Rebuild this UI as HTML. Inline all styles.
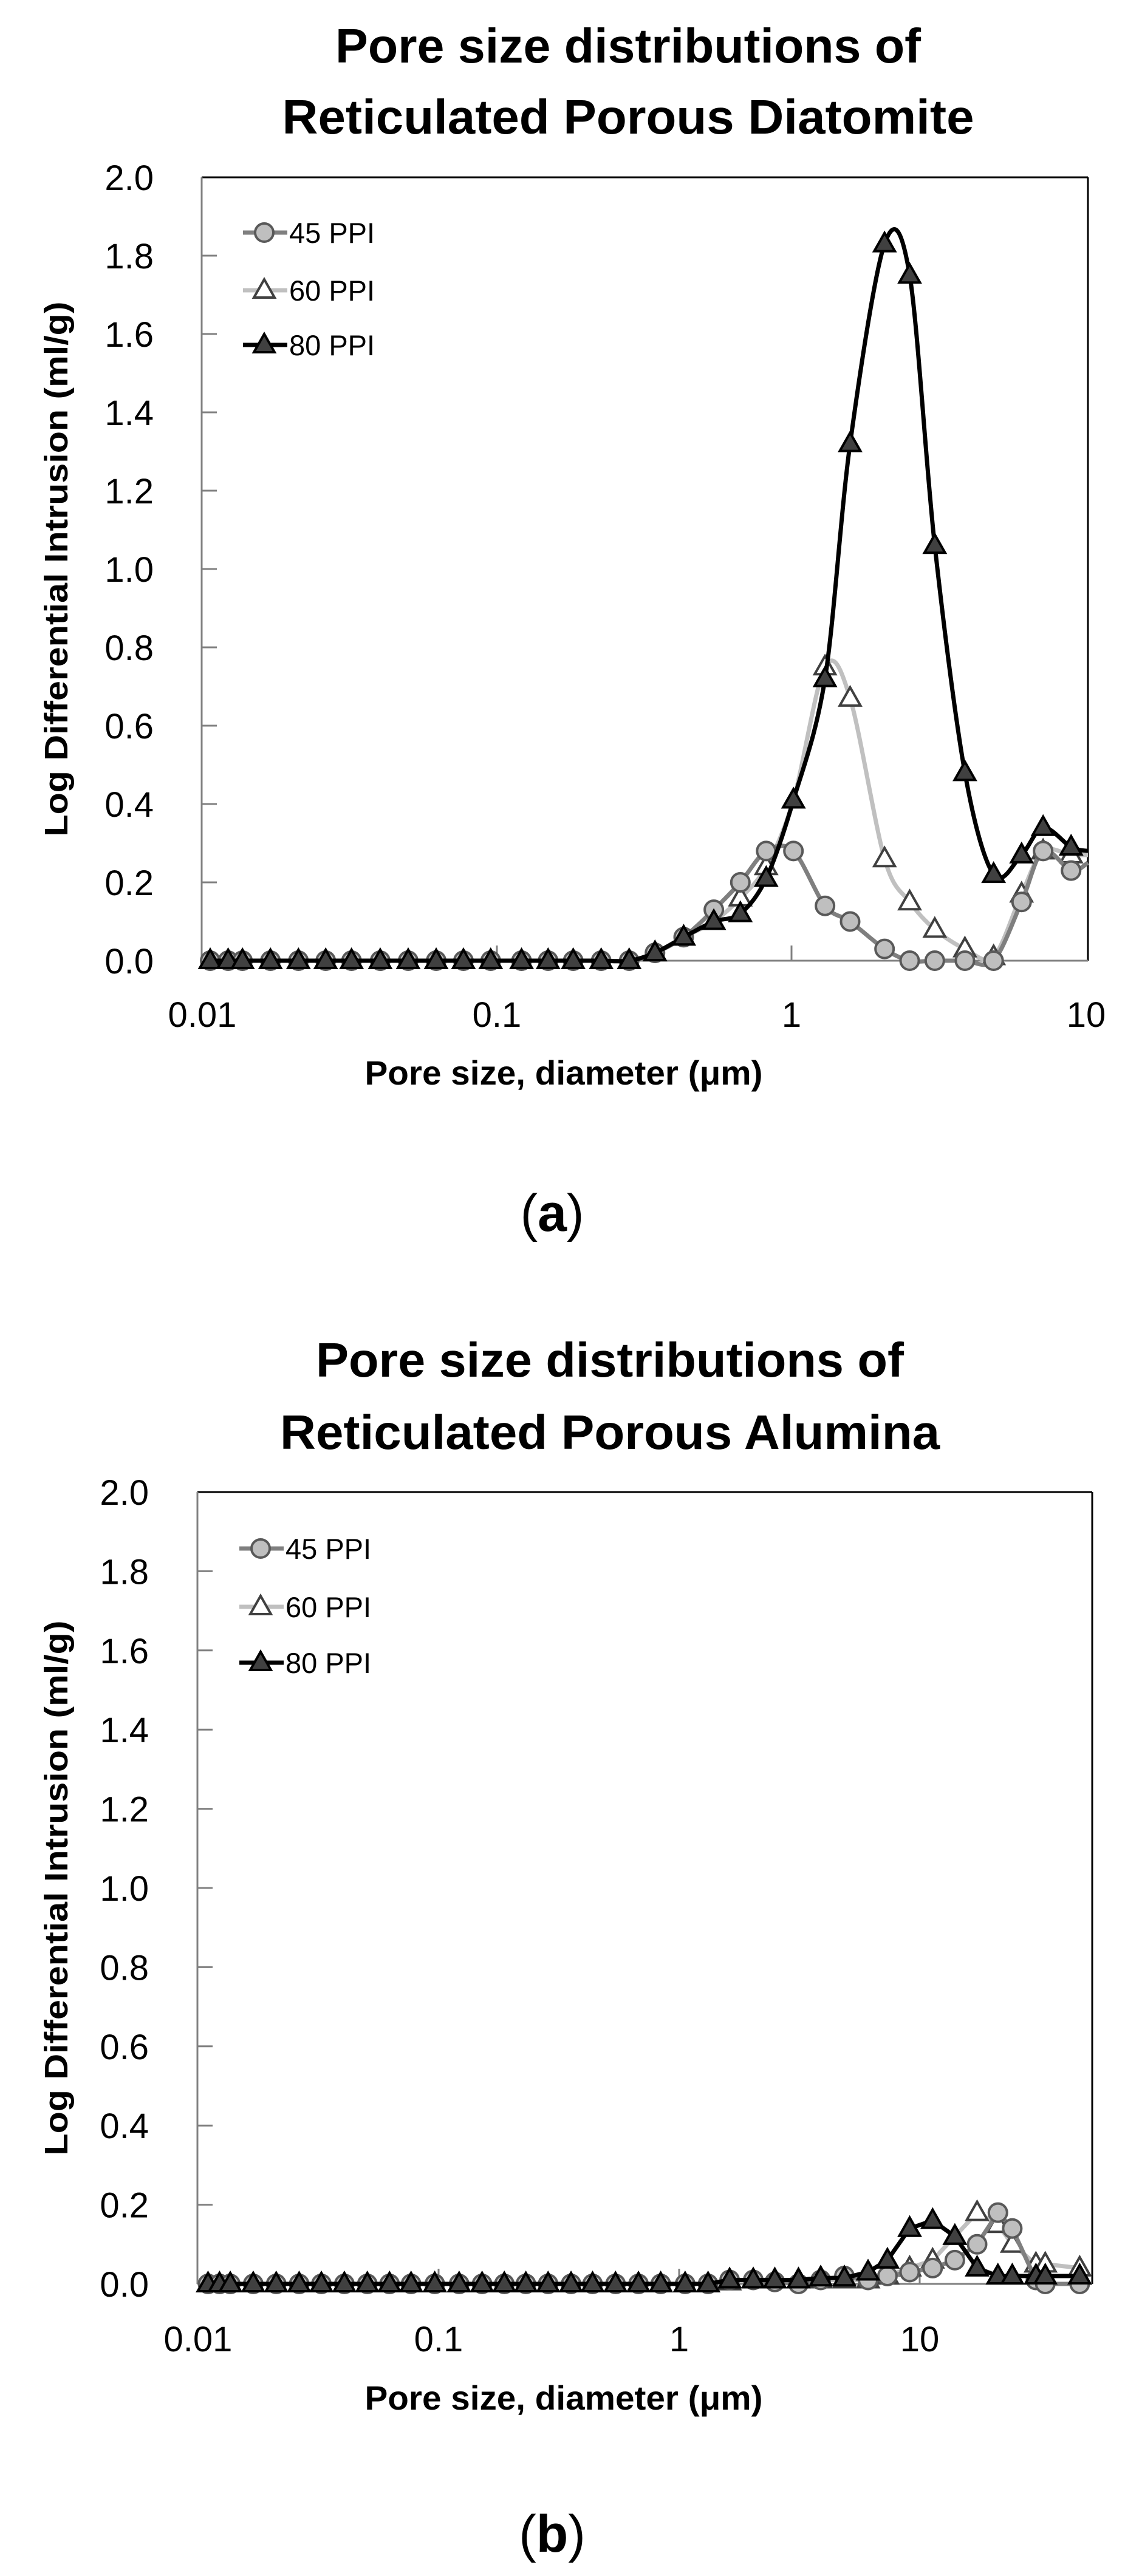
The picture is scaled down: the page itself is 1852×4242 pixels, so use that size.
<!DOCTYPE html>
<html><head><meta charset="utf-8">
<style>
html,body{margin:0;padding:0;background:#fff;}
svg{display:block;}
text{font-family:"Liberation Sans",sans-serif;}
</style></head>
<body>
<svg id="s" width="1852" height="4242" viewBox="0 0 1852 4242" xmlns="http://www.w3.org/2000/svg">
<rect width="1852" height="4242" fill="#fff"/>
</svg>
<script>
const S=document.getElementById('s');const NS='http://www.w3.org/2000/svg';
const K=1.181;
function el(t,a,txt){const e=document.createElementNS(NS,t);for(const k in a)e.setAttribute(k,a[k]);if(txt!==undefined)e.textContent=txt;S.appendChild(e);return e;}
function path(p,sm){if(p.length<2)return'';let d='M'+p[0][0]+','+p[0][1];
 if(!sm){for(let i=1;i<p.length;i++)d+=' L'+p[i][0]+','+p[i][1];return d;}
 for(let i=0;i<p.length-1;i++){const p0=p[i-1]||p[i],p1=p[i],p2=p[i+1],p3=p[i+2]||p2;const t=0.16;
 const c1=[p1[0]+(p2[0]-p0[0])*t,p1[1]+(p2[1]-p0[1])*t];const c2=[p2[0]-(p3[0]-p1[0])*t,p2[1]-(p3[1]-p1[1])*t];
 d+=' C'+c1[0]+','+c1[1]+' '+c2[0]+','+c2[1]+' '+p2[0]+','+p2[1];}return d;}
function tri(x,y,fill,stroke){el('polygon',{points:`${x},${y-18} ${x-17},${y+12} ${x+17},${y+12}`,fill:fill,stroke:stroke,'stroke-width':4,'stroke-linejoin':'miter'});}
function circ(x,y){el('circle',{cx:x,cy:y,r:15,fill:'#bfbfbf',stroke:'#595959','stroke-width':4});}
const styles=[{c:'#7f7f7f',m:'c'},{c:'#c0c0c0',m:'o'},{c:'#000',m:'f'}];
function mark(si,x,y){const st=styles[si];if(st.m=='c')circ(x,y);else if(st.m=='o')tri(x,y,'#fff','#404040');else tri(x,y,'#404040','#000');}

function chart(o){
 const {L,R,T,B,x0,dec,tc,t1,t2,tw1,tw2,ty1,ty2,xtb,xlbl,lab,laby,xs,ser,ext,sm,leg,ylx}=o;
 el('text',{x:tc,y:ty1,'font-size':80,'font-weight':'bold','text-anchor':'middle',textLength:tw1,lengthAdjust:'spacingAndGlyphs',fill:'#000'},t1);
 el('text',{x:tc,y:ty2,'font-size':80,'font-weight':'bold','text-anchor':'middle',textLength:tw2,lengthAdjust:'spacingAndGlyphs',fill:'#000'},t2);
 const Y=v=>B-(B-T)*v/2;
 for(let i=0;i<=10;i++){const v=i*0.2,y=Y(v);if(i>0&&i<10)el('line',{x1:L,y1:y,x2:L+25,y2:y,stroke:'#808080','stroke-width':3});
  el('text',{x:ylx,y:y+21,'font-size':58,'text-anchor':'end',fill:'#000'},v.toFixed(1));}
 ['0.01','0.1','1','10'].forEach((s,i)=>{const x=x0+i*dec;if(x>R+5)return;
  if(i>0&&x<R-5)el('line',{x1:x,y1:B,x2:x,y2:B-25,stroke:'#808080','stroke-width':3});
  el('text',{x:x,y:xtb,'font-size':58,'text-anchor':'middle',fill:'#000'},s);});
 el('line',{x1:L,y1:T,x2:R,y2:T,stroke:'#000','stroke-width':3});
 el('line',{x1:R,y1:T,x2:R,y2:B,stroke:'#000','stroke-width':3});
 el('line',{x1:L,y1:T,x2:L,y2:B,stroke:'#808080','stroke-width':3});
 el('line',{x1:L,y1:B,x2:R,y2:B,stroke:'#808080','stroke-width':3});
 el('text',{x:928,y:xlbl,'font-size':56,'font-weight':'bold','text-anchor':'middle',textLength:655,lengthAdjust:'spacingAndGlyphs',fill:'#000'},'Pore size, diameter (\u03bcm)');
 el('text',{x:0,y:0,'font-size':54,'font-weight':'bold','text-anchor':'middle',textLength:881,lengthAdjust:'spacingAndGlyphs',fill:'#000',transform:`translate(111,${(T+B)/2}) rotate(-90)`},'Log Differential Intrusion (ml/g)');
 const l=el('text',{x:909,y:laby,'font-size':86,'text-anchor':'middle',fill:'#000','font-family':'Liberation Serif, serif'});
 l.innerHTML='(<tspan font-weight="bold">'+lab+'</tspan>)';
 [1,0,2].forEach(si=>{const vals=ser[si];const pts=[];vals.forEach((v,i)=>{pts.push([xs[i]*K,Y(v)]);});
  const lp=pts.slice();if(ext)lp.push([R,Y(ext[si])]);
  el('path',{d:path(lp,sm),fill:'none',stroke:styles[si].c,'stroke-width':7,'stroke-linejoin':'round'});
  pts.forEach(p=>mark(si,p[0],p[1]));
 });
 [[0,'45 PPI'],[1,'60 PPI'],[2,'80 PPI']].forEach(([si,n],k)=>{const y=leg.y[k],xa=leg.x;
  el('line',{x1:xa,y1:y,x2:xa+73,y2:y,stroke:styles[si].c,'stroke-width':7});
  mark(si,xa+35,y);
  el('text',{x:xa+76,y:y+17,'font-size':47,fill:'#000'},n);});
}

const xa=[293,318,338,377,416,454,490,530,569,608,646,684,727,764,799,838,877,913,953,995,1032,1068,1106,1150,1185,1233,1268,1303,1345,1385,1424,1454,1493];
const z16=Array(16).fill(0);
const a45=z16.concat([0,0.02,0.06,0.13,0.2,0.28,0.28,0.14,0.1,0.03,0,0,0,0,0.15,0.28,0.23]);
const a60=z16.concat([0,0.02,0.06,0.1,0.16,0.24,0.41,0.75,0.67,0.26,0.15,0.08,0.03,0.01,0.17,0.28,0.27]);
const a80=z16.concat([0,0.02,0.06,0.1,0.12,0.21,0.41,0.72,1.32,1.83,1.75,1.06,0.48,0.22,0.27,0.34,0.29]);
chart({L:332,R:1791,T:292,B:1582,x0:333,dec:485,tc:1034,t1:'Pore size distributions of',t2:'Reticulated Porous Diatomite',tw1:964,tw2:1139,ty1:103,ty2:220,
 xtb:1691,xlbl:1786,lab:'a',laby:2027,xs:xa,ser:[a45,a60,a80],ext:[0.25,0.27,0.28],sm:true,leg:{x:400,y:[383,478,568]},ylx:253});

const xb=[290,306,321,353,385,417,448,480,512,543,573,606,640,672,703,733,764,796,826,858,890,921,955,987,1017,1050,1080,1113,1144,1177,1210,1237,1268,1300,1331,1362,1391,1411,1444,1457,1505];
const zb=Array(24).fill(0);
const b80=zb.concat([0.01,0.01,0.01,0.01,0.015,0.015,0.03,0.06,0.14,0.16,0.12,0.04,0.02,0.02,0.02,0.02,0.02]);
const b60=zb.concat([0.005,0.01,0.01,0.01,0.01,0.01,0.01,0.02,0.04,0.06,0.12,0.18,0.15,0.1,0.05,0.05,0.04]);
const b45=zb.concat([0.01,0.01,0.005,0,0.01,0.02,0.01,0.02,0.03,0.04,0.06,0.1,0.18,0.14,0.01,0,0]);
chart({L:325,R:1798,T:2457,B:3761,x0:326,dec:396,tc:1004,t1:'Pore size distributions of',t2:'Reticulated Porous Alumina',tw1:968,tw2:1086,ty1:2267,ty2:2386,
 xtb:3872,xlbl:3968,lab:'b',laby:4202,xs:xb,ser:[b45,b60,b80],sm:false,leg:{x:394,y:[2550,2646,2738]},ylx:245});
</script>
</body></html>
